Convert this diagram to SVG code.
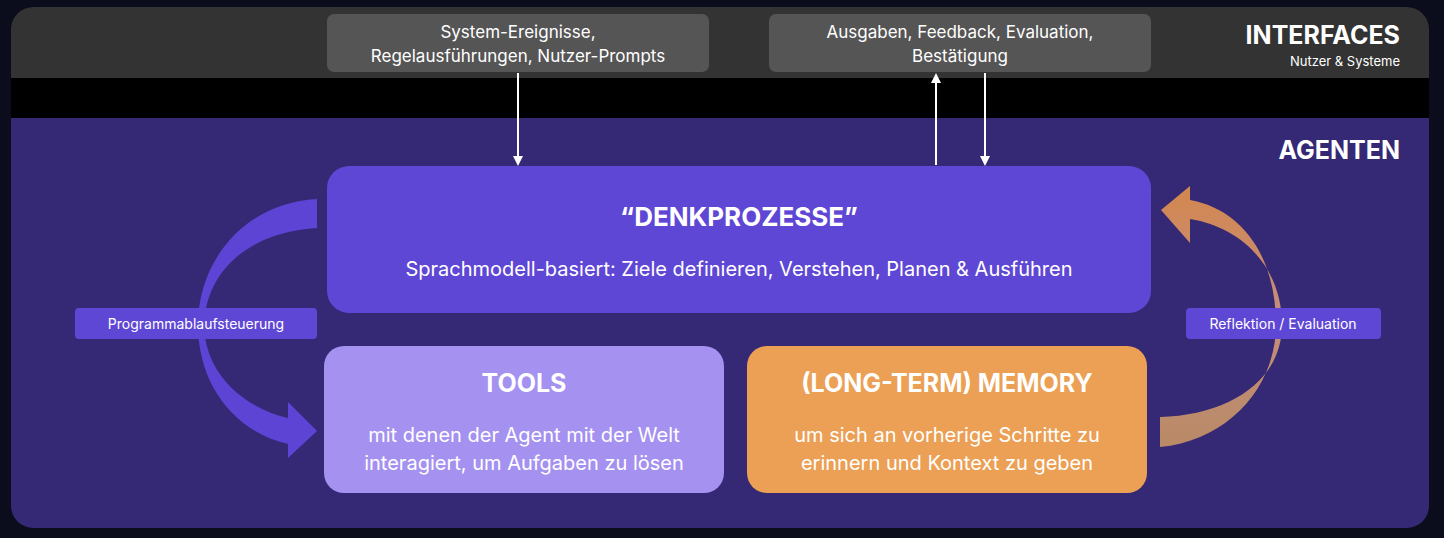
<svg xmlns="http://www.w3.org/2000/svg" width="1444" height="538" viewBox="0 0 1444 538">
<style>
.t{font-family:Inter,"Liberation Sans",sans-serif;fill:#fff}
.h{font-weight:700}
</style>
<defs>
<marker id="ah" markerWidth="10" markerHeight="10" refX="8" refY="5" orient="auto" markerUnits="userSpaceOnUse"><path d="M0,0 L10,5 L0,10 Z" fill="#fff"/></marker>
<linearGradient id="og" x1="0" y1="1" x2="0" y2="0"><stop offset="0" stop-color="#b98a66"/><stop offset="0.5" stop-color="#c48d7e"/><stop offset="1" stop-color="#d3874e"/></linearGradient>
</defs>
<rect width="1444" height="538" fill="#0b0d1c"/>
<g id="panel">
<rect x="11" y="7" width="1418" height="521" rx="22" fill="#000"/>
<path d="M33,7 H1407 A22,22 0 0 1 1429,29 V78 H11 V29 A22,22 0 0 1 33,7 Z" fill="#333"/>
<path d="M11,118 H1429 V506 A22,22 0 0 1 1407,528 H33 A22,22 0 0 1 11,506 Z" fill="#352874"/>
<text class="t h" x="1400" y="44" font-size="25" text-anchor="end">INTERFACES</text>
<text class="t" x="1400" y="66" font-size="13" text-anchor="end">Nutzer &amp; Systeme</text>
<text class="t h" x="1400" y="159" font-size="25" text-anchor="end">AGENTEN</text>
</g>
<g id="in-box">
<rect x="327" y="14" width="382" height="58" rx="7" fill="#555"/>
<text class="t" x="518" y="38" font-size="17" text-anchor="middle">System-Ereignisse,</text>
<text class="t" x="518" y="62" font-size="17" text-anchor="middle">Regelausführungen, Nutzer-Prompts</text>
</g>
<g id="out-box">
<rect x="769" y="14" width="382" height="58" rx="7" fill="#555"/>
<text class="t" x="960" y="38" font-size="17" text-anchor="middle">Ausgaben, Feedback, Evaluation,</text>
<text class="t" x="960" y="62" font-size="17" text-anchor="middle">Bestätigung</text>
</g>
<g id="connectors">
<line x1="518" y1="73" x2="518" y2="164" stroke="#fff" stroke-width="2" marker-end="url(#ah)"/>
<line x1="936" y1="165" x2="936" y2="75" stroke="#fff" stroke-width="2" marker-end="url(#ah)"/>
<line x1="985" y1="73" x2="985" y2="164" stroke="#fff" stroke-width="2" marker-end="url(#ah)"/>
<path d="M317,199 C245,203 198,260 198,325 C198,385 235,432 288,444 L288,458 L317,431 L288,402 L288,418 C245,408 205,375 204,325 C206,270 250,232 317,228 Z" fill="#5d44d4"/>
<path d="M1160,417 C1230,415 1282,380 1282,325 C1282,270 1245,228 1190,219 L1190,243 L1161,210 L1190,186 L1190,200 C1245,210 1276,260 1276,325 C1276,385 1230,440 1160,447 Z" fill="url(#og)"/>
<rect x="75" y="308" width="242" height="31" rx="4" fill="#5f47d6"/>
<text class="t" x="196" y="329" font-size="14" text-anchor="middle">Programmablaufsteuerung</text>
<rect x="1186" y="308" width="195" height="31" rx="4" fill="#5f47d6"/>
<text class="t" x="1283" y="329" font-size="14" text-anchor="middle">Reflektion / Evaluation</text>
</g>
<g id="denk">
<rect x="327" y="166" width="824" height="147" rx="22" fill="#5f47d6"/>
<text class="t h" x="739" y="226" font-size="26" text-anchor="middle">“DENKPROZESSE”</text>
<text class="t" x="739" y="276" font-size="20" text-anchor="middle">Sprachmodell-basiert: Ziele definieren, Verstehen, Planen &amp; Ausführen</text>
</g>
<g id="tools">
<rect x="324" y="346" width="400" height="147" rx="20" fill="#a491f0"/>
<text class="t h" x="524" y="392" font-size="25" text-anchor="middle">TOOLS</text>
<text class="t" x="524" y="442" font-size="20" text-anchor="middle">mit denen der Agent mit der Welt</text>
<text class="t" x="524" y="470" font-size="20" text-anchor="middle">interagiert, um Aufgaben zu lösen</text>
</g>
<g id="memory">
<rect x="747" y="346" width="400" height="147" rx="20" fill="#eba055"/>
<text class="t h" x="947" y="392" font-size="25" text-anchor="middle">(LONG-TERM) MEMORY</text>
<text class="t" x="947" y="442" font-size="20" text-anchor="middle">um sich an vorherige Schritte zu</text>
<text class="t" x="947" y="470" font-size="20" text-anchor="middle">erinnern und Kontext zu geben</text>
</g>
</svg>
